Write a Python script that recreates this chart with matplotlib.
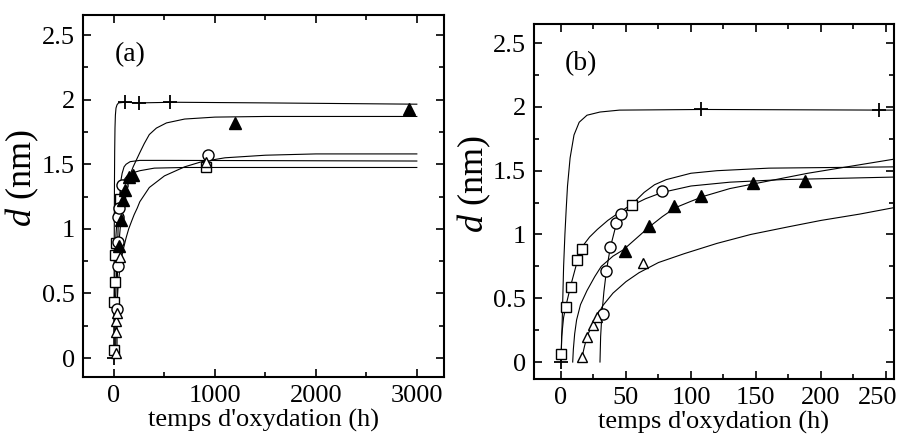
import numpy as np
import matplotlib
matplotlib.use('Agg')
import matplotlib.pyplot as plt
from matplotlib.ticker import FixedLocator, MultipleLocator
from matplotlib.transforms import ScaledTranslation

plt.rcParams['font.family'] = ['Liberation Serif', 'DejaVu Serif']
plt.rcParams['mathtext.fontset'] = 'custom'
plt.rcParams['mathtext.rm'] = 'Liberation Serif'
plt.rcParams['mathtext.it'] = 'Liberation Serif:italic'

# measured points (t in h, d in nm)
t_plus = [0, 108, 245, 555]
d_plus = [0.0, 1.98, 1.975, 1.98]
t_square = [0, 4, 7.5, 12.5, 16, 55, 910]
d_square = [0.06, 0.43, 0.59, 0.80, 0.89, 1.23, 1.48]
t_circle = [32, 35, 38, 42, 46, 78, 930]
d_circle = [0.38, 0.71, 0.90, 1.09, 1.16, 1.34, 1.57]
t_tri_full = [49, 68, 87, 108, 148, 188, 1200, 2920]
d_tri_full = [0.87, 1.07, 1.22, 1.30, 1.40, 1.42, 1.82, 1.93]
t_tri_open = [16, 20, 24.5, 27.5, 63, 910]
d_tri_open = [0.04, 0.20, 0.29, 0.35, 0.78, 1.52]

# fitted curves
fit_t_plus = [0, 1, 2, 3, 4, 5, 7, 10, 14, 20, 30, 45, 110, 250, 600, 1500, 3000]
fit_d_plus = [0, 0.35, 0.75, 1.0, 1.2, 1.38, 1.6, 1.78, 1.88, 1.935, 1.96, 1.975,
              1.98, 1.975, 1.98, 1.975, 1.965]
fit_t_square = [0, 0.5, 2, 4, 7.5, 12.5, 16, 22, 28, 36, 43, 55, 64, 72, 81, 100,
                120, 160, 256, 500, 3000]
fit_d_square = [0, 0.2, 0.35, 0.45, 0.6, 0.79, 0.9, 0.98, 1.04, 1.11, 1.16, 1.24,
                1.33, 1.39, 1.43, 1.48, 1.5, 1.52, 1.53, 1.53, 1.525]
fit_t_circle = [30, 30.5, 31.5, 33, 35, 38, 42, 46, 55, 65, 78, 100, 130, 170, 256,
                400, 700, 3000]
fit_d_circle = [0, 0.2, 0.38, 0.55, 0.72, 0.9, 1.06, 1.15, 1.23, 1.28, 1.33, 1.38,
                1.41, 1.43, 1.45, 1.47, 1.475, 1.475]
fit_t_tri_full = [9, 9.5, 10.5, 12, 15, 20, 26, 31, 40, 48, 58, 68, 78, 88, 100, 110,
                  130, 150, 170, 190, 220, 256, 300, 350, 420, 520, 700, 1000, 1500, 3000]
fit_d_tri_full = [0, 0.1, 0.22, 0.33, 0.45, 0.56, 0.67, 0.75, 0.83, 0.88, 0.97, 1.06,
                  1.14, 1.21, 1.26, 1.3, 1.36, 1.4, 1.44, 1.48, 1.53, 1.59, 1.66, 1.73,
                  1.78, 1.82, 1.85, 1.865, 1.87, 1.87]
fit_t_tri_open = [16, 18, 20, 24, 28, 32, 40, 50, 60, 75, 95, 120, 146, 175, 200, 230,
                  256, 350, 500, 700, 870, 1100, 1500, 2000, 3000]
fit_d_tri_open = [0.03, 0.12, 0.2, 0.29, 0.36, 0.44, 0.54, 0.63, 0.7, 0.78, 0.85, 0.93,
                  1.0, 1.06, 1.11, 1.16, 1.21, 1.32, 1.41, 1.48, 1.52, 1.55, 1.57, 1.58,
                  1.58]

y_ticks = [0, 0.5, 1, 1.5, 2, 2.5]
y_labels = ['0', '0.5', '1', '1.5', '2', '2.5']
xa_ticks = [0, 1000, 2000, 3000]
xb_ticks = [0, 50, 100, 150, 200, 250]


def draw_panel(ax, tag, xlim, ylim, xticks, xminor):
    lw = 0.8
    for t, d in [(fit_t_plus, fit_d_plus), (fit_t_square, fit_d_square),
                 (fit_t_circle, fit_d_circle), (fit_t_tri_full, fit_d_tri_full),
                 (fit_t_tri_open, fit_d_tri_open)]:
        ax.plot(t, d, color='black', lw=lw)
    ax.plot(t_plus, d_plus, ls='none', marker='+', ms=10, mew=1.3, color='black')
    ax.plot(t_square, d_square, ls='none', marker='s', ms=6.5, mfc='white',
            mec='black', mew=1.0)
    ax.plot(t_circle, d_circle, ls='none', marker='o', ms=8, mfc='white',
            mec='black', mew=1.0)
    ax.plot(t_tri_open, d_tri_open, ls='none', marker='^', ms=7.5, mfc='white',
            mec='black', mew=1.0)
    ax.plot(t_tri_full, d_tri_full, ls='none', marker='^', ms=8, mfc='black',
            mec='black', mew=1.0)

    ax.set_xlim(*xlim)
    ax.set_ylim(*ylim)
    ax.xaxis.set_major_locator(FixedLocator(xticks))
    ax.xaxis.set_minor_locator(MultipleLocator(xminor))
    ax.set_yticks(y_ticks)
    ax.set_yticklabels(y_labels)
    ax.yaxis.set_minor_locator(MultipleLocator(0.25))
    ax.tick_params(which='both', direction='in', top=True, right=True,
                   labelsize=19, width=1.2, pad=6)
    ax.tick_params(which='major', length=6)
    ax.tick_params(which='minor', length=3.5)
    for s in ax.spines.values():
        s.set_linewidth(1.5)
    ax.set_xlabel("temps d'oxydation (h)", fontsize=19, labelpad=1)
    ax.set_ylabel('$d$ (nm)', fontsize=26)
    ax.yaxis.set_label_coords(-0.115, 0.55)
    ax.text(0.13, 0.89, tag, transform=ax.transAxes, fontsize=20,
            ha='center', va='center')


fig = plt.figure(figsize=(9.02, 4.43), dpi=100)
ax_a = fig.add_axes([0.092, 0.149, 0.400, 0.817])
ax_b = fig.add_axes([0.592, 0.1445, 0.399, 0.801])

draw_panel(ax_a, '(a)', (-307, 3267), (-0.147, 2.655), xa_ticks, 500)
draw_panel(ax_b, '(b)', (-20.8, 256.2), (-0.133, 2.649), xb_ticks, 25)

# the last label of (b) sits against the figure edge, pull it in a little
last = ax_b.xaxis.get_major_ticks()[-1].label1
last.set_transform(last.get_transform() +
                   ScaledTranslation(-6 / 72, 0, fig.dpi_scale_trans))

fig.savefig('out.png', dpi=100)
